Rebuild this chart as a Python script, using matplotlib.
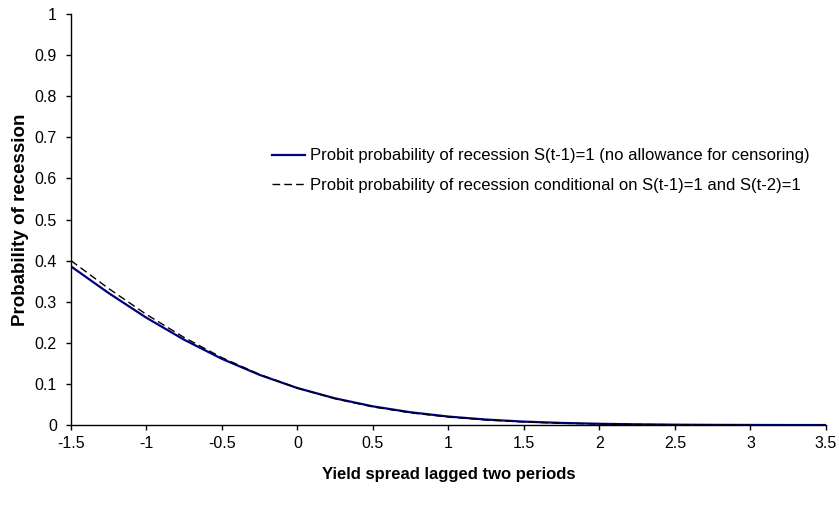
import matplotlib
matplotlib.use("Agg")
import matplotlib.pyplot as plt

plt.rcParams['font.family'] = ['Liberation Sans', 'DejaVu Sans']

# valores (espaco de 0.25)
spread = [-1.5, -1.25, -1.0, -0.75, -0.5, -0.25, 0.0, 0.25, 0.5, 0.75, 1.0,
          1.25, 1.5, 1.75, 2.0, 2.25, 2.5, 2.75, 3.0, 3.25, 3.5]
prob_sem_censura = [0.386, 0.321, 0.261, 0.2075, 0.161, 0.122, 0.090, 0.0649,
                    0.0455, 0.0311, 0.0207, 0.0134, 0.0084, 0.0052, 0.0031,
                    0.0018, 0.0010, 0.0005, 0.0003, 0.0001, 0.0001]
spread_cond = spread[:19]
prob_condicional = [0.400, 0.332, 0.269, 0.213, 0.164, 0.123, 0.090, 0.0641,
                    0.0443, 0.0298, 0.0195, 0.0124, 0.0076, 0.0045, 0.0026,
                    0.0015, 0.0008, 0.0004, 0.0002]

rotulo1 = 'Probit probability of recession S(t-1)=1 (no allowance for censoring)'
rotulo2 = 'Probit probability of recession conditional on S(t-1)=1 and S(t-2)=1'

fig = plt.figure(figsize=(8.39, 5.14), dpi=100)
ax = fig.add_axes([0.0846, 0.173, 0.8999, 0.7998])

ax.plot(spread, prob_sem_censura, color='#000080', lw=1.6, label=rotulo1)
ax.plot(spread_cond, prob_condicional, color='black', lw=1.0,
        dashes=(5.5, 3), label=rotulo2)

ax.set_xlim(-1.5, 3.5)
ax.set_ylim(0, 1)
ax.set_xticks([-1.5, -1, -0.5, 0, 0.5, 1, 1.5, 2, 2.5, 3, 3.5])
ax.set_xticklabels(['-1.5', '-1', '-0.5', '0', '0.5', '1', '1.5', '2', '2.5', '3', '3.5'])
ax.set_yticks([0, 0.1, 0.2, 0.3, 0.4, 0.5, 0.6, 0.7, 0.8, 0.9, 1])
ax.set_yticklabels(['0', '0.1', '0.2', '0.3', '0.4', '0.5', '0.6', '0.7', '0.8', '0.9', '1'])

for lado in ['top', 'right']:
    ax.spines[lado].set_visible(False)
for lado in ['left', 'bottom']:
    ax.spines[lado].set_linewidth(1.0)
ax.tick_params(direction='out', length=3.6, width=1.0, labelsize=11.5, pad=4.5)
ax.tick_params(axis='y', pad=6.5)

ax.set_xlabel('Yield spread lagged two periods', fontsize=12, fontweight='bold', labelpad=11)
ax.set_ylabel('Probability of recession', fontsize=13.5, fontweight='bold', labelpad=4)

ax.legend(loc='upper left', bbox_to_anchor=(0.266, 0.673), frameon=False,
          fontsize=12, handlelength=2.0, handletextpad=0.3, labelspacing=0.86,
          borderpad=0, borderaxespad=0)

fig.savefig('out.png', dpi=100)
